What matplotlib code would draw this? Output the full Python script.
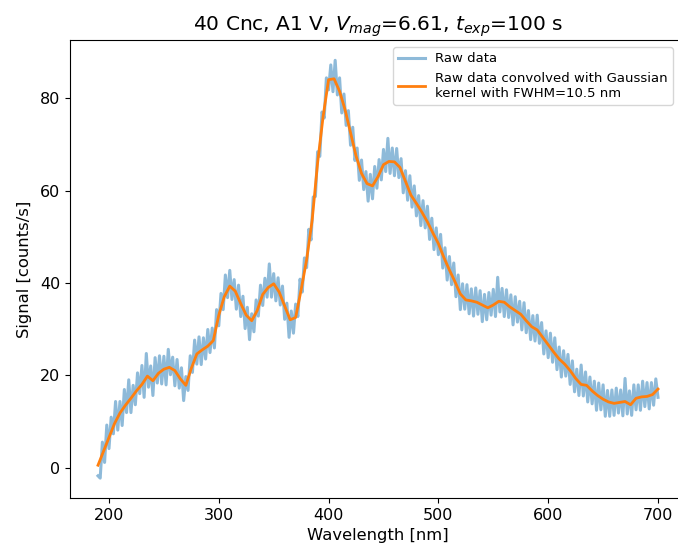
import numpy as np
from matplotlib import pyplot as plt

raw_wl = np.arange(190, 701, 2)
raw_signal = [
    -1.8, -2.3, 5.5, 1.1, 9.2, 4.1, 10.9, 7.3, 14.3, 8.1,
    14.3, 9.1, 16.9, 11.9, 19.0, 11.9, 17.8, 13.6, 20.5, 16.0,
    22.1, 15.2, 24.7, 17.4, 22.0, 15.6, 23.8, 18.3, 24.2, 18.1,
    24.1, 17.9, 25.6, 20.1, 23.9, 17.7, 23.4, 17.2, 21.6, 14.5,
    19.7, 16.7, 24.2, 20.6, 27.6, 22.4, 28.3, 22.3, 28.1, 23.5,
    29.9, 24.9, 30.2, 25.9, 34.2, 30.7, 37.7, 34.2, 41.7, 36.8,
    42.7, 36.4, 40.7, 34.3, 39.5, 32.7, 37.1, 30.1, 34.7, 27.7,
    33.3, 29.4, 36.3, 32.8, 39.5, 35.1, 41.0, 36.9, 44.1, 36.9,
    42.0, 36.1, 41.1, 35.2, 39.3, 32.1, 35.6, 28.2, 33.9, 29.1,
    35.4, 32.7, 40.8, 38.0, 45.4, 43.3, 51.6, 49.3, 58.6, 58.7,
    68.4, 67.4, 77.0, 75.7, 84.4, 81.8, 87.2, 81.4, 88.2, 80.7,
    84.4, 76.8, 80.9, 74.1, 77.3, 69.8, 73.7, 66.5, 69.2, 62.2,
    66.6, 60.2, 64.1, 57.7, 63.5, 58.2, 65.2, 60.5, 66.7, 62.3,
    68.9, 64.1, 71.3, 63.7, 69.2, 63.2, 69.1, 62.8, 66.9, 59.5,
    64.3, 57.9, 63.2, 56.4, 61.0, 54.5, 58.9, 52.4, 57.8, 51.9,
    56.6, 49.4, 54.0, 47.2, 51.9, 46.1, 50.5, 43.2, 47.6, 40.6,
    45.7, 39.6, 44.3, 37.0, 41.7, 34.2, 39.8, 34.3, 39.6, 33.3,
    38.7, 32.8, 38.9, 33.2, 38.3, 31.6, 37.5, 32.0, 37.9, 33.0,
    38.6, 32.7, 41.2, 33.7, 38.8, 32.7, 38.5, 32.5, 37.4, 30.9,
    37.0, 31.5, 36.0, 29.8, 35.7, 29.2, 34.0, 27.7, 32.9, 27.4,
    33.0, 26.9, 31.4, 24.6, 29.6, 23.8, 29.1, 22.8, 28.1, 21.2,
    26.1, 19.6, 25.3, 19.8, 24.5, 18.0, 23.1, 16.4, 21.3, 15.6,
    22.2, 15.5, 20.7, 14.2, 19.6, 13.8, 18.7, 12.4, 18.3, 12.5,
    17.9, 11.1, 16.7, 11.1, 16.8, 11.3, 17.2, 11.8, 16.8, 11.2,
    19.3, 11.6, 16.6, 11.3, 17.9, 12.5, 17.9, 12.4, 18.7, 13.2,
    18.4, 12.7, 18.4, 13.5, 19.2, 15.2,
]

# smoothed curve, every 5 nm
smooth_wl = np.arange(190, 701, 5)
smooth_signal = [
    0.5, 3.5, 6.5, 9.5, 11.8, 13.5, 15.0, 16.6, 18.0, 19.8,
    18.8, 20.4, 21.3, 21.7, 21.0, 19.2, 17.8, 21.5, 24.6, 25.5,
    26.3, 27.5, 33.0, 37.0, 39.3, 38.2, 35.5, 33.0, 31.8, 34.0,
    37.5, 39.0, 39.8, 38.0, 35.0, 32.0, 32.5, 38.5, 45.0, 53.5,
    66.0, 76.0, 84.0, 84.2, 81.5, 77.5, 72.5, 67.5, 63.7, 61.5,
    61.0, 63.0, 65.6, 66.3, 66.2, 65.0, 62.0, 59.0, 57.2, 55.3,
    53.2, 50.8, 48.5, 45.5, 42.8, 40.3, 37.6, 36.3, 36.1, 35.8,
    35.2, 34.6, 35.2, 36.0, 35.8, 34.8, 34.0, 33.2, 31.8, 30.5,
    29.8, 28.2, 26.6, 25.0, 23.5, 22.4, 21.0, 19.3, 18.0, 17.8,
    16.6, 15.6, 14.8, 14.2, 13.9, 14.1, 14.3, 13.6, 15.0, 15.3,
    15.4, 15.8, 17.0,
]

fig = plt.figure(figsize=(6.78, 5.52), dpi=100)
ax = fig.add_axes([70/678, 54/552, 616/678, 458/552])

ax.plot(raw_wl, raw_signal, color="C0", alpha=0.5, lw=2.2, label="Raw data")
ax.plot(smooth_wl, smooth_signal, color="C1", lw=2,
        label="Raw data convolved with Gaussian\nkernel with FWHM=10.5 nm")

ax.set_xlim(164.5, 725.5)
ax.set_ylim(-6.6, 92.6)
ax.set_xticks([200, 300, 400, 500, 600, 700])
ax.set_yticks([0, 20, 40, 60, 80])
ax.tick_params(labelsize=11.5)
ax.set_xlabel("Wavelength [nm]", fontsize=11.8, labelpad=4)
ax.set_ylabel("Signal [counts/s]", fontsize=11.8, labelpad=6)
ax.set_title(r"40 Cnc, A1 V, $V_{mag}$=6.61, $t_{exp}$=100 s", fontsize=14.5, pad=7)
ax.legend(loc="upper right", bbox_to_anchor=(0.979, 0.985), borderaxespad=0,
          fontsize=9.5)

fig.savefig("out.png", dpi=100)
